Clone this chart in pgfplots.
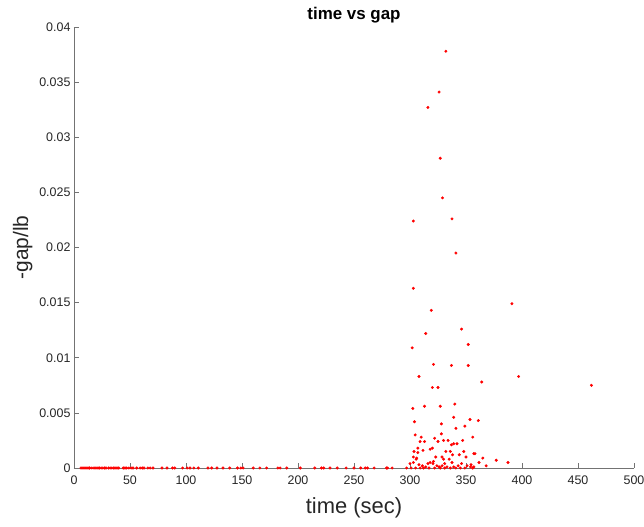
\documentclass[border=0pt]{standalone}
\usepackage{pgfplots}
\pgfplotsset{compat=1.18}
\usepackage{fontspec}
\setmainfont{Liberation Sans}
\definecolor{mtext}{rgb}{0.15,0.15,0.15}
\definecolor{maxis}{rgb}{0.45,0.45,0.45}
\begin{document}
\begin{tikzpicture}
\begin{axis}[
  at={(0,0)}, anchor=south west,
  scale only axis,
  width=560bp, height=441bp,
  xmin=0, xmax=500, ymin=0, ymax=0.04,
  axis x line=bottom, axis y line=left,
  axis line style={-, draw=maxis, line width=0.6pt},
  tick style={draw=maxis, line width=0.6pt},
  tick align=inside,
  major tick length=5bp,
  xtick={0,50,...,500},
  ytick={0,0.005,...,0.04},
  scaled y ticks=false,
  yticklabel style={/pgf/number format/fixed, /pgf/number format/precision=3, xshift=0bp},
  xticklabel style={yshift=-4bp},
  /pgf/number format/assume math mode=true,
  ticklabel style={font=\fontsize{12.5}{14}\selectfont, text=mtext},
  xlabel={time (sec)},
  ylabel={-gap/lb},
  xlabel style={font=\fontsize{22}{24}\selectfont, text=mtext, yshift=-6bp},
  ylabel style={font=\fontsize{21}{23}\selectfont, text=mtext, yshift=0bp},
  title={time vs gap},
  title style={font=\bfseries\fontsize{17}{19}\selectfont, text=black, yshift=-6bp},
]
\addplot [only marks, red, mark=*, mark size=1.3pt, mark options={draw=red, fill=red}]
coordinates {
% along zero, 0--300 s
(6.3,0)(8,0)(9.8,0)(11.6,0)(13.4,0)(14,0)(16,0)(17.9,0)(19.6,0)(21.4,0)
(23,0)(25,0)(27,0)(28.6,0)(31,0)(33,0)(35,0)(36.6,0)(38.4,0)(40,0)
(44,0)(45.5,0)(47,0)(49,0)(51,0)(52.7,0)(56,0)(59,0)(61,0)(62.5,0)
(66,0)(68,0)(70.5,0)(78.6,0)(83,0)(88,0)(90,0)(97,0)(101,0)
(103.6,0)(107,0)(111,0)(119.6,0)(123,0)(127.7,0)(133,0)(139,0)(146,0)
(149,0)(151,0)(160,0)(166,0)(172,0)(182,0)(184,0)(190,0)(202,0)
(215,0)(221,0)(223,0)(228.6,0)(235,0)(243,0)(250,0)(256,0)(260,0)
(262,0)(268,0)(279,0)(280,0)(284,0)(297,0)(301,0)(305,0)(309,0)
(312,0)(317,0)(322,0)(327,0)(331,0)(336,0)(341,0)(345,0)(349,0)(356,0)
% upper scatter
(332,0.0378)(326,0.0341)(316,0.0327)(327,0.0281)(329,0.0245)
(303,0.0224)(337.5,0.0226)(341,0.0195)(303,0.0163)(319,0.0143)
(391,0.0149)(314,0.0122)(346,0.0126)(352,0.0112)(302,0.0109)
(321,0.0094)(337,0.0093)(352,0.0093)(308,0.0083)(320,0.0073)
(325,0.0073)(364,0.0078)(397,0.0083)(462,0.0075)
% dense cluster near zero
(302.5,0.0054)(313,0.0056)(327,0.0056)(340,0.0058)(304,0.0042)
(328,0.0040)(339,0.0046)(353.6,0.0044)(349,0.0038)(304.6,0.0030)
(310,0.0028)(309,0.0024)(341,0.0036)(328,0.0031)(322,0.0027)
(325,0.0024)(330,0.0025)(334,0.0025)(313,0.0024)(347,0.0025)
(307,0.0018)(318,0.0017)(320,0.0018)(311.6,0.0016)(303.6,0.0015)
(337,0.0021)(339,0.0022)(342,0.0022)(336,0.0015)(332,0.0015)
(348,0.0015)(307,0.0014)(303,0.0010)(305.5,0.0008)(306,0.0009)
(321,0.0006)(323,0.0010)(328.6,0.0010)(330,0.0008)(335,0.0008)
(338,0.0012)(344,0.0012)(350,0.0010)(357,0.0013)(300,0.0004)
(303,0.0005)(308,0.0003)(311,0.0002)(314,0.0001)(316,0.0004)
(318,0.0005)(320.5,0.0004)(324,0.0002)(326,0.0001)(328.6,0.0002)
(331,0.0004)(333,0.0001)(337.5,0.0005)(339,0.0001)(343,0.0002)
(346,0.0004)(351,0.0002)(354,0.0001)(361,0.0043)(356,0.0028)
(358,0.0013)(365,0.0009)(361.6,0.0005)(377,0.0007)(387.5,0.0005)
(354.5,0.0003)(357,0.0001)(368,0.0002)
};
\end{axis}
\pgfresetboundingbox
\path (-74bp,-59bp) rectangle (570bp,468bp);
\end{tikzpicture}
\end{document}
